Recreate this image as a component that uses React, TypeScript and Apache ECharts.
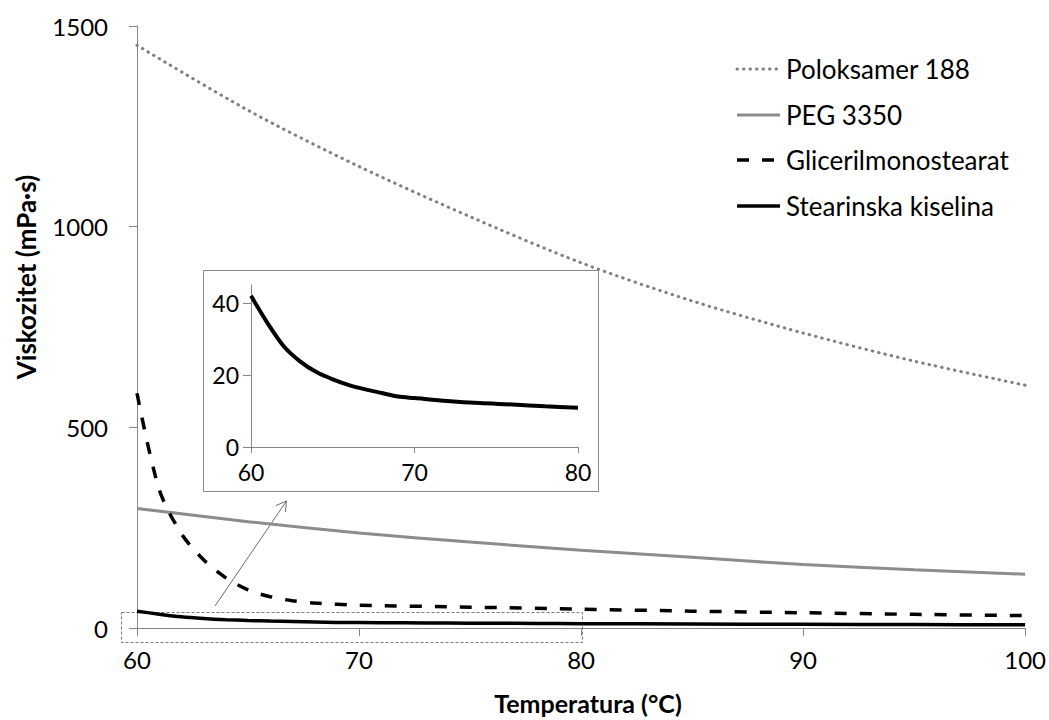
import React, { useEffect, useRef } from "react";
import * as echarts from "echarts";

// ---- data ----
const seriesNames = ["Poloksamer 188", "PEG 3350", "Glicerilmonostearat", "Stearinska kiselina"];

const polTemps = [60, 65, 70, 75, 80, 85, 90, 95, 100];
const polVisc = [1452, 1290, 1150, 1025, 910, 815, 735, 665, 605];

const pegTemps = [60, 65, 70, 75, 80, 85, 90, 95, 100];
const pegVisc = [298, 265, 237, 214, 194, 176, 158, 145, 134];

const glicTemps = [60, 61, 62, 63, 64, 65, 66, 67, 68, 70, 75, 80, 85, 90, 95, 100];
const glicVisc = [585, 345, 235, 170, 125, 95, 78, 68, 62, 57, 52, 47, 42, 38, 34, 31];

const stTemps = [60, 61, 62, 63, 64, 65, 66, 67, 68, 69, 70, 72, 74, 76, 78, 80, 85, 90, 95, 100];
const stVisc = [42, 34.5, 28, 23.8, 20.8, 18.8, 17.2, 16, 15, 14, 13.6, 12.8, 12.2, 11.8, 11.3, 10.9, 10, 9.3, 8.6, 8];

const mainYTicks = [0, 500, 1000, 1500];
const insetYTicks = [0, 20, 40];

const xTitle = "Temperatura (°C)";
const yTitle = "Viskozitet (mPa·s)";

const pairs = (xs: number[], ys: number[]) => xs.map((x, i) => [x, ys[i]]);

const FONT = "Lato, 'Noto Sans', sans-serif";
const AXIS = "#868686";
const plain = (v: number) => String(v);

export default function App() {
  const ref = useRef<HTMLDivElement>(null);

  useEffect(() => {
    if (!ref.current) return;
    const chart = echarts.init(ref.current, undefined, { renderer: "svg" });

    const styles = [
      { color: "#7f7f7f", width: 3, type: [0.5, 6] as any, cap: "round" },
      { color: "#8c8c8c", width: 3, type: "solid", cap: "butt" },
      { color: "#000000", width: 3.5, type: [12, 13] as any, cap: "butt" },
      { color: "#000000", width: 3.5, type: "solid", cap: "butt" },
    ];
    const datasets = [
      pairs(polTemps, polVisc),
      pairs(pegTemps, pegVisc),
      pairs(glicTemps, glicVisc),
      pairs(stTemps, stVisc),
    ];

    const mainSeries = datasets.map((d, i) => ({
      name: seriesNames[i],
      type: "line",
      xAxisIndex: 0,
      yAxisIndex: 0,
      data: d,
      showSymbol: false,
      symbol: "none",
      smooth: 0.3,
      lineStyle: { color: styles[i].color, width: styles[i].width, type: styles[i].type, cap: styles[i].cap },
      z: 2,
    }));

    const insetData = pairs(stTemps, stVisc).filter((p) => p[0] <= 80);

    const legendY = [69, 115, 160, 206];
    const legendGraphics: any[] = [];
    seriesNames.forEach((n, i) => {
      legendGraphics.push({
        type: "line",
        shape: { x1: 737, y1: legendY[i], x2: 780, y2: legendY[i] },
        style: {
          stroke: styles[i].color,
          lineWidth: styles[i].width,
          lineDash: Array.isArray(styles[i].type) ? styles[i].type : null,
          lineCap: styles[i].cap,
        },
      });
      legendGraphics.push({
        type: "text",
        x: 786,
        y: legendY[i],
        style: { text: n, font: `26px ${FONT}`, fill: "#000", align: "left", verticalAlign: "middle" },
      });
    });

    const option: any = {
      animation: false,
      backgroundColor: "#ffffff",
      grid: [
        { left: 137, right: 20, top: 26, bottom: 92, containLabel: false },
        { left: 251, top: 285, width: 327, height: 162, containLabel: false },
      ],
      xAxis: [
        {
          type: "value",
          gridIndex: 0,
          min: 60,
          max: 100,
          interval: 10,
          axisLine: { show: true, lineStyle: { color: AXIS, width: 1 } },
          axisTick: { show: true, length: 8, lineStyle: { color: AXIS } },
          splitLine: { show: false },
          axisLabel: { color: "#000", fontSize: 24, fontFamily: FONT, margin: 19, formatter: plain },
        },
        {
          type: "value",
          gridIndex: 1,
          min: 60,
          max: 80,
          interval: 10,
          z: 10,
          axisLine: { show: true, lineStyle: { color: AXIS, width: 1 } },
          axisTick: { show: true, length: 6, lineStyle: { color: AXIS } },
          splitLine: { show: false },
          axisLabel: { color: "#000", fontSize: 23, fontFamily: FONT, margin: 13, formatter: plain },
        },
      ],
      yAxis: [
        {
          type: "value",
          gridIndex: 0,
          min: 0,
          max: 1500,
          interval: 500,
          axisLine: { show: true, lineStyle: { color: AXIS, width: 1 } },
          axisTick: { show: true, length: 8, lineStyle: { color: AXIS }, customValues: mainYTicks },
          splitLine: { show: false },
          axisLabel: { color: "#000", fontSize: 24, fontFamily: FONT, margin: 29, customValues: mainYTicks, formatter: plain },
        },
        {
          type: "value",
          gridIndex: 1,
          min: 0,
          max: 45,
          interval: 20,
          z: 10,
          axisLine: { show: true, lineStyle: { color: AXIS, width: 1 } },
          axisTick: { show: true, length: 8, lineStyle: { color: AXIS }, customValues: insetYTicks },
          splitLine: { show: false },
          axisLabel: { color: "#000", fontSize: 23, fontFamily: FONT, margin: 12, customValues: insetYTicks, formatter: plain },
        },
      ],
      series: [
        ...mainSeries,
        {
          name: seriesNames[3] + " (detalj)",
          type: "line",
          xAxisIndex: 1,
          yAxisIndex: 1,
          data: insetData,
          showSymbol: false,
          symbol: "none",
          smooth: 0.3,
          lineStyle: { color: "#000", width: 4 },
          z: 10,
        },
      ],
      graphic: [
        {
          type: "rect",
          shape: { x: 203.5, y: 270.5, width: 395, height: 221 },
          style: { fill: "none", stroke: "#898989", lineWidth: 1 },
        },
        {
          type: "rect",
          shape: { x: 121.5, y: 612.5, width: 461, height: 30 },
          style: { fill: "none", stroke: "#7a7a7a", lineWidth: 1, lineDash: [3, 2] },
        },
        {
          type: "line",
          shape: { x1: 215, y1: 606, x2: 286.5, y2: 501 },
          style: { stroke: "#6e6e6e", lineWidth: 1 },
        },
        {
          type: "polyline",
          shape: { points: [[276, 505.5], [286.5, 501], [285.3, 512]] },
          style: { stroke: "#6e6e6e", lineWidth: 1, fill: "none" },
        },
        {
          type: "text",
          x: 26,
          y: 277,
          rotation: Math.PI / 2,
          style: { text: yTitle, font: `bold 26px ${FONT}`, fill: "#000", align: "center", verticalAlign: "middle" },
        },
        {
          type: "text",
          x: 588,
          y: 703,
          style: { text: xTitle, font: `bold 25px ${FONT}`, fill: "#000", align: "center", verticalAlign: "middle" },
        },
        ...legendGraphics,
      ],
    };

    chart.setOption(option);
    return () => chart.dispose();
  }, []);

  return (
    <div
      ref={ref}
      style={{ position: "fixed", left: 0, top: 0, width: 1049, height: 720, background: "#fff" }}
    />
  );
}
